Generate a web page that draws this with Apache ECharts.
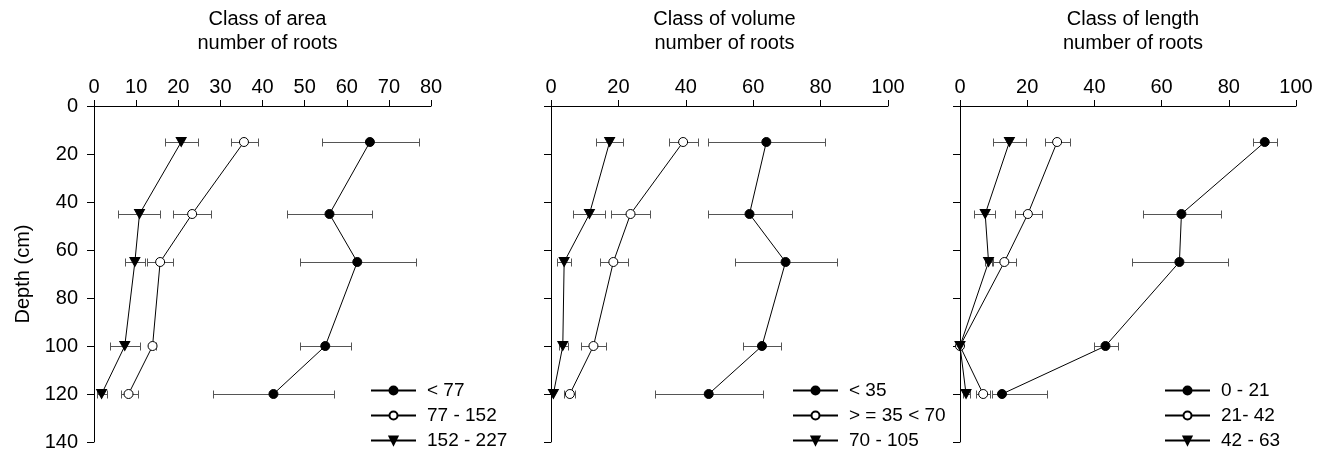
<!DOCTYPE html>
<html>
<head>
<meta charset="utf-8">
<script src="https://cdn.jsdelivr.net/npm/echarts@6/dist/echarts.min.js"></script>
<style>
html,body{margin:0;padding:0;background:#fff;}
#chart{width:1325px;height:457px;}
</style>
</head>
<body>
<div id="chart"></div>
<script>
// ---- data ----
const depths = [15, 45, 65, 100, 120];
const depthTicks = [0, 20, 40, 60, 80, 100, 120, 140];

const panelTitles = ['Class of area\nnumber of roots', 'Class of volume\nnumber of roots', 'Class of length\nnumber of roots'];

// Class of area
const areaNames = ['< 77', '77 - 152', '152 - 227'];
const areaA = [65.5, 55.9, 62.5, 54.9, 42.6];
const areaALo = [54.2, 45.9, 49.0, 49.0, 28.3];
const areaAHi = [77.1, 66.1, 76.4, 61.0, 57.0];
const areaB = [35.6, 23.3, 15.7, 13.9, 8.2];
const areaBLo = [32.6, 18.8, 12.5, 13.2, 6.3];
const areaBHi = [38.9, 27.8, 18.7, 14.6, 10.4];
const areaC = [20.7, 10.8, 9.7, 7.3, 1.8];
const areaCLo = [16.8, 5.8, 7.3, 3.9, 0.6];
const areaCHi = [24.7, 15.6, 12.0, 10.9, 3.0];

// Class of volume
const volNames = ['< 35', '> = 35 < 70', '70 - 105'];
const volA = [63.9, 58.9, 69.6, 62.6, 46.8];
const volALo = [46.5, 46.5, 54.6, 57.0, 30.9];
const volAHi = [81.4, 71.5, 84.8, 68.2, 63.0];
const volB = [39.2, 23.6, 18.5, 12.6, 5.6];
const volBLo = [35.0, 17.7, 14.6, 9.0, 3.9];
const volBHi = [43.7, 29.5, 22.8, 16.2, 7.2];
const volC = [17.4, 11.4, 3.9, 3.5, 0.7];
const volCLo = [13.3, 6.4, 1.9, 2.3, 0.7];
const volCHi = [21.4, 16.1, 5.9, 4.9, 0.7];

// Class of length
const lenNames = ['0 - 21', '21- 42', '42 - 63'];
const lenA = [90.7, 65.9, 65.3, 43.3, 12.5];
const lenALo = [87.2, 54.6, 51.1, 39.8, 9.6];
const lenAHi = [94.3, 77.6, 79.8, 47.1, 26.0];
const lenB = [28.9, 20.2, 13.2, 0, 6.9];
const lenBLo = [25.2, 16.3, 9.9, 0, 4.8];
const lenBHi = [32.7, 24.4, 16.7, 0, 9.0];
const lenC = [14.7, 7.5, 8.5, 0, 1.8];
const lenCLo = [9.7, 4.3, 7.5, 0, 1.0];
const lenCHi = [19.6, 10.4, 9.6, 0, 3.0];

const xMax = [80, 100, 100];
const xInterval = [10, 20, 20];

// ---- layout ----
const grids = [
  {left: 94, top: 106, width: 337, height: 336},
  {left: 551, top: 106, width: 337, height: 336},
  {left: 960, top: 106, width: 336, height: 336}
];
const legendLeft = [370, 792, 1164];
const FONT = 'Liberation Sans, Arial, sans-serif';

const panels = [
  {names: areaNames, vals: [areaA, areaB, areaC], lo: [areaALo, areaBLo, areaCLo], hi: [areaAHi, areaBHi, areaCHi]},
  {names: volNames, vals: [volA, volB, volC], lo: [volALo, volBLo, volCLo], hi: [volAHi, volBHi, volCHi]},
  {names: lenNames, vals: [lenA, lenB, lenC], lo: [lenALo, lenBLo, lenCLo], hi: [lenAHi, lenBHi, lenCHi]}
];

const triDown = 'path://M0,0 L10,0 L5,9 Z';
const symbols = [
  {symbol: 'circle', size: 9, color: '#000', border: '#000'},
  {symbol: 'circle', size: 9, color: '#fff', border: '#000'},
  {symbol: triDown, size: [10, 9], color: '#000', border: '#000'}
];

function errRender(params, api) {
  const d = api.value(2);
  const p1 = api.coord([api.value(0), d]);
  const p2 = api.coord([api.value(1), d]);
  const y = Math.round(p1[1]) + 0.5;
  const x1 = Math.round(p1[0]) + 0.5;
  const x2 = Math.round(p2[0]) + 0.5;
  const h = 4;
  const st = {stroke: '#555', lineWidth: 1};
  return {
    type: 'group',
    children: [
      {type: 'line', shape: {x1: x1, y1: y, x2: x2, y2: y}, style: st},
      {type: 'line', shape: {x1: x1, y1: y - h, x2: x1, y2: y + h}, style: st},
      {type: 'line', shape: {x1: x2, y1: y - h, x2: x2, y2: y + h}, style: st}
    ]
  };
}

const option = {
  animation: false,
  backgroundColor: '#fff',
  textStyle: {fontFamily: FONT},
  title: grids.map((g, i) => ({
    text: panelTitles[i],
    left: g.left + g.width / 2,
    top: 2,
    textAlign: 'center',
    textStyle: {fontSize: 20, fontWeight: 'normal', color: '#000', lineHeight: 24, fontFamily: FONT}
  })),
  grid: grids,
  xAxis: grids.map((g, i) => ({
    type: 'value',
    gridIndex: i,
    position: 'top',
    min: 0,
    max: xMax[i],
    interval: xInterval[i],
    axisLine: {show: true, onZero: false, lineStyle: {color: '#000', width: 1}},
    axisTick: {show: true, inside: false, length: 6, lineStyle: {color: '#000'}},
    axisLabel: {show: true, margin: 9, fontSize: 20, color: '#000', fontFamily: FONT},
    splitLine: {show: false}
  })),
  yAxis: grids.map((g, i) => ({
    type: 'value',
    gridIndex: i,
    inverse: true,
    min: depthTicks[0],
    max: depthTicks[depthTicks.length - 1],
    interval: depthTicks[1] - depthTicks[0],
    name: i === 0 ? 'Depth (cm)' : '',
    nameLocation: 'middle',
    nameRotate: 90,
    nameGap: 61,
    nameTextStyle: {fontSize: 20, color: '#000', fontFamily: FONT},
    axisLine: {show: true, onZero: false, lineStyle: {color: '#000', width: 1}},
    axisTick: {show: true, inside: false, length: 7, lineStyle: {color: '#000'}},
    axisLabel: {show: i === 0, margin: 16, fontSize: 20, color: '#000', fontFamily: FONT},
    splitLine: {show: false}
  })),
  legend: panels.map((p, i) => ({
    data: p.names,
    orient: 'vertical',
    left: legendLeft[i],
    top: 381,
    padding: 0,
    itemWidth: 45,
    itemHeight: 10,
    itemGap: 6,
    selectedMode: false,
    textStyle: {fontSize: 19, color: '#000', lineHeight: 19, padding: [0, 0, 0, 6], fontFamily: FONT}
  })),
  series: []
};

panels.forEach((p, i) => {
  p.vals.forEach((vals, k) => {
    option.series.push({
      type: 'custom',
      name: p.names[k] + ' err',
      xAxisIndex: i,
      yAxisIndex: i,
      renderItem: errRender,
      encode: {x: [0, 1], y: 2},
      z: 1,
      silent: true,
      data: depths.map((d, j) => [p.lo[k][j], p.hi[k][j], d])
    });
  });
  p.vals.forEach((vals, k) => {
    const s = symbols[k];
    option.series.push({
      type: 'line',
      name: p.names[k],
      xAxisIndex: i,
      yAxisIndex: i,
      symbol: s.symbol,
      symbolSize: s.size,
      showAllSymbol: true,
      z: 3,
      lineStyle: {color: '#000', width: 1},
      itemStyle: {color: s.color, borderColor: s.border, borderWidth: 1},
      data: depths.map((d, j) => [vals[j], d])
    });
  });
});

const chart = echarts.init(document.getElementById('chart'), null, {renderer: 'canvas'});
chart.setOption(option);
</script>
</body>
</html>
